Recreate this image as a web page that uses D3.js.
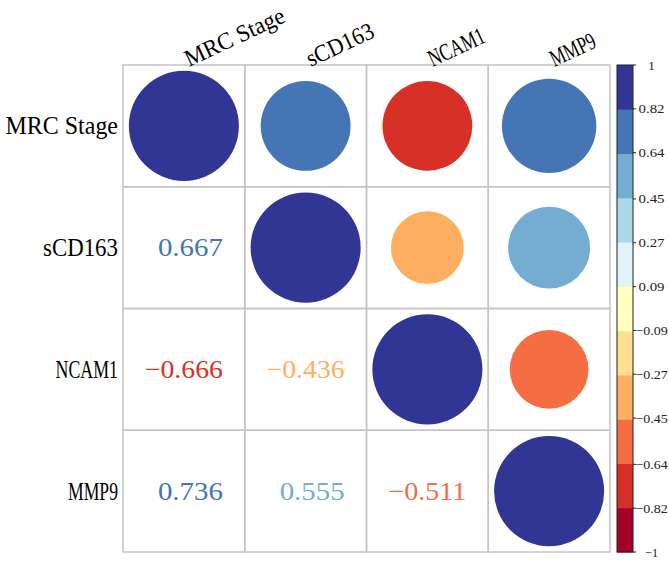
<!DOCTYPE html>
<html>
<head>
<meta charset="utf-8">
<script src="https://cdn.jsdelivr.net/npm/d3@7"></script>
<style>
  html, body { margin: 0; padding: 0; background: #fff; }
  svg { display: block; }
  text { font-family: "Liberation Serif", "DejaVu Serif", serif; }
</style>
</head>
<body>
<svg id="corrplot"></svg>
<script>
const variables = ["MRC Stage", "sCD163", "NCAM1", "MMP9"];
const corr_mrc = [1, 0.667, -0.666, 0.736];
const corr_scd163 = [0.667, 1, -0.436, 0.555];
const corr_ncam1 = [-0.666, -0.436, 1, -0.511];
const corr_mmp9 = [0.736, 0.555, -0.511, 1];
const corr_rows = [corr_mrc, corr_scd163, corr_ncam1, corr_mmp9];
// RdYlBu, 11 bins, from -1 (bottom) to 1 (top)
const palette = ["#a50026", "#d73027", "#f46d43", "#fdae61", "#fee090", "#ffffbf",
                 "#e0f3f8", "#abd9e9", "#74add1", "#4575b4", "#313695"];
const colorbar_ticks = [-1, -0.82, -0.64, -0.45, -0.27, -0.09, 0.09, 0.27, 0.45, 0.64, 0.82, 1];

const svg_size = {width: 669, height: 561};
const grid = {left: 123, top: 65, right: 610, bottom: 552};
const bar = {left: 617, right: 633};

const svg = d3.select("#corrplot")
    .attr("width", svg_size.width)
    .attr("height", svg_size.height);

const x = d3.scaleBand().domain(variables).range([grid.left, grid.right]);
const y = d3.scaleBand().domain(variables).range([grid.top, grid.bottom]);
const color = d3.scaleQuantize().domain([-1, 1]).range(palette);
const radius = d3.scaleSqrt().domain([0, 1]).range([0, x.bandwidth() * 0.452]);
const fmt = d3.format(".3f");

// SimSun-like half-width text: every character 0.5em wide
function halfWidth(sel, size) {
    sel.attr("font-size", size)
       .attr("font-family", "'Liberation Serif', 'DejaVu Serif', serif")
       .attr("textLength", d => String(d.label).length * 0.5 * size)
       .attr("lengthAdjust", "spacingAndGlyphs");
}

const cells = [];
corr_rows.forEach((row, i) => row.forEach((v, j) => cells.push({row: variables[i], col: variables[j], i, j, v})));

// grid
svg.append("g").selectAll("rect")
    .data(cells)
    .join("rect")
    .attr("x", d => x(d.col))
    .attr("y", d => y(d.row))
    .attr("width", x.bandwidth())
    .attr("height", y.bandwidth())
    .attr("fill", "none")
    .attr("stroke", "#c4c4c4")
    .attr("stroke-width", 1.5);

// upper triangle: circles
svg.append("g").selectAll("circle")
    .data(cells.filter(d => d.j >= d.i))
    .join("circle")
    .attr("cx", d => x(d.col) + x.bandwidth() / 2)
    .attr("cy", d => y(d.row) + y.bandwidth() / 2)
    .attr("r", d => radius(Math.abs(d.v)))
    .attr("fill", d => color(d.v));

// lower triangle: numbers
const numSize = 26;
svg.append("g").selectAll("text")
    .data(cells.filter(d => d.j < d.i).map(d => ({...d, label: (d.v < 0 ? "\u2212" : "") + fmt(Math.abs(d.v))})))
    .join("text")
    .attr("x", d => x(d.col) + x.bandwidth() / 2 + 3 * 0.5 * numSize)
    .attr("y", d => y(d.row) + y.bandwidth() / 2)
    .attr("text-anchor", "end")
    .attr("dominant-baseline", "central")
    .attr("fill", d => color(d.v))
    .text(d => d.label)
    .call(halfWidth, numSize);

// row labels
const labSize = 25;
svg.append("g").selectAll("text")
    .data(variables.map(v => ({label: v})))
    .join("text")
    .attr("x", grid.left - 5)
    .attr("y", d => y(d.label) + y.bandwidth() / 2)
    .attr("text-anchor", "end")
    .attr("dominant-baseline", "central")
    .attr("fill", "#000")
    .text(d => d.label)
    .call(halfWidth, labSize);

// column labels, rotated
svg.append("g").selectAll("text")
    .data(variables.map(v => ({label: v})))
    .join("text")
    .attr("transform", d => `translate(${x(d.label) + x.bandwidth() / 2 + 5},${grid.top + 2}) rotate(-25)`)
    .attr("text-anchor", "start")
    .attr("fill", "#000")
    .text(d => d.label)
    .call(halfWidth, 24);

// colorbar
const cy = d3.scaleLinear().domain([-1, 1]).range([grid.bottom, grid.top]);
const bins = palette.map(c => ({c, lo: color.invertExtent(c)[0], hi: color.invertExtent(c)[1]}));
const barG = svg.append("g");
barG.selectAll("rect")
    .data(bins)
    .join("rect")
    .attr("x", bar.left)
    .attr("width", bar.right - bar.left)
    .attr("y", d => cy(d.hi))
    .attr("height", d => cy(d.lo) - cy(d.hi) + 0.5)
    .attr("fill", d => d.c);
barG.append("rect")
    .attr("x", bar.left)
    .attr("y", cy(1))
    .attr("width", bar.right - bar.left)
    .attr("height", cy(-1) - cy(1))
    .attr("fill", "none")
    .attr("stroke", "#222")
    .attr("stroke-width", 1);

const tickFmt = d => Math.abs(d) === 1 ? d3.format("d")(d) : d3.format(".2f")(d);
const ticks = barG.append("g").selectAll("g")
    .data(colorbar_ticks.map(t => ({t, label: tickFmt(t)})))
    .join("g")
    .attr("transform", d => `translate(0,${cy(d.t)})`);
ticks.append("line")
    .attr("x1", bar.right)
    .attr("x2", bar.right + 3)
    .attr("stroke", "#222")
    .attr("stroke-width", 1);
const tickSize = 13;
ticks.append("text")
    .attr("x", 651.5)
    .attr("text-anchor", "middle")
    .attr("dominant-baseline", "central")
    .attr("fill", "#222")
    .text(d => d.label)
    .call(halfWidth, tickSize);
</script>
</body>
</html>
